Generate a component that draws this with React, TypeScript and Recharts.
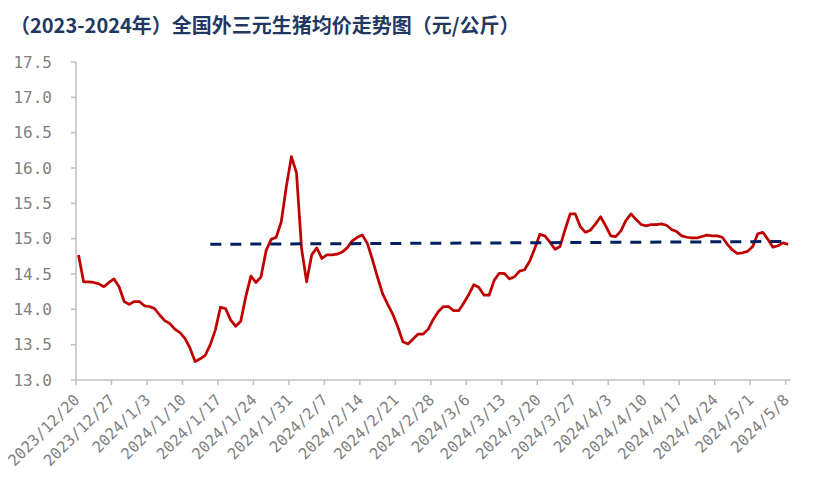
import React from 'react';
import { LineChart, Line, XAxis, YAxis } from 'recharts';

const tickLabels = [
  '2023/12/20', '2023/12/27', '2024/1/3', '2024/1/10', '2024/1/17', '2024/1/24', '2024/1/31',
  '2024/2/7', '2024/2/14', '2024/2/21', '2024/2/28', '2024/3/6', '2024/3/13', '2024/3/20',
  '2024/3/27', '2024/4/3', '2024/4/10', '2024/4/17', '2024/4/24', '2024/5/1', '2024/5/8',
];
const tickDays = [0, 7, 14, 21, 28, 35, 42, 49, 56, 63, 70, 77, 84, 91, 98, 105, 112, 119, 126, 133, 140];

// daily average price, 2023/12/20 .. 2024/5/8
const priceValues = [
  14.77, 14.39, 14.39, 14.38, 14.36, 14.32, 14.38, 14.43, 14.32, 14.11,
  14.07, 14.11, 14.11, 14.05, 14.04, 14.01, 13.92, 13.84, 13.80, 13.72,
  13.67, 13.59, 13.45, 13.26, 13.30, 13.35, 13.50, 13.71, 14.03, 14.01,
  13.85, 13.76, 13.83, 14.18, 14.47, 14.38, 14.46, 14.83, 14.99, 15.02,
  15.24, 15.74, 16.16, 15.93, 14.86, 14.39, 14.77, 14.87, 14.72, 14.77,
  14.77, 14.78, 14.81, 14.87, 14.97, 15.02, 15.05, 14.93, 14.70, 14.45,
  14.22, 14.07, 13.93, 13.75, 13.54, 13.51, 13.58, 13.65, 13.65, 13.72,
  13.86, 13.97, 14.04, 14.04, 13.98, 13.98, 14.09, 14.21, 14.35, 14.31,
  14.20, 14.20, 14.41, 14.51, 14.51, 14.43, 14.46, 14.54, 14.56, 14.68,
  14.86, 15.06, 15.04, 14.95, 14.85, 14.89, 15.13, 15.35, 15.35, 15.17,
  15.09, 15.12, 15.21, 15.31, 15.18, 15.04, 15.03, 15.11, 15.26, 15.35,
  15.27, 15.20, 15.18, 15.20, 15.20, 15.21, 15.19, 15.13, 15.10, 15.04,
  15.02, 15.01, 15.01, 15.03, 15.05, 15.04, 15.04, 15.02, 14.92, 14.84,
  14.79, 14.80, 14.82, 14.89, 15.07, 15.09, 14.99, 14.88, 14.90, 14.94,
  14.92,
];

// linear trend line endpoints (day index, value)
const trendDays = [26, 140];
const trendValues = [14.92, 14.96];

const yTicks = [13.0, 13.5, 14.0, 14.5, 15.0, 15.5, 16.0, 16.5, 17.0, 17.5];

const data = priceValues.map((v, i) => {
  const ti = trendDays.indexOf(i);
  return { day: i + 0.5, price: v, trend: ti >= 0 ? trendValues[ti] : null };
});

const AXIS = '#BFBFBF';
const LABEL = '#7F7F7F';
const MONO = '"DejaVu Sans Mono", monospace';

const XTick = (props: any) => {
  const { x, y, payload } = props;
  const idx = tickDays.indexOf(payload.value);
  const label = idx >= 0 ? tickLabels[idx] : '';
  const tx = x + 4.5;
  const ty = y + 16;
  return (
    <text
      x={tx}
      y={ty}
      transform={`rotate(-45 ${tx} ${ty})`}
      textAnchor="end"
      fill={LABEL}
      fontSize={15.5}
      fontFamily={MONO}
    >
      {label}
    </text>
  );
};

export default function App() {
  return (
    <div style={{ position: 'relative', width: 806, height: 478, background: '#fff' }}>
      <div
        style={{
          position: 'absolute',
          left: 2,
          top: 4,
          fontFamily: '"Noto Sans CJK SC", sans-serif',
          fontWeight: 700,
          fontSize: 20,
          lineHeight: '26px',
          color: '#1F3864',
          whiteSpace: 'nowrap',
        }}
      >
        （2023-2024年）全国外三元生猪均价走势图（元/公斤）
      </div>
      <LineChart
        width={806}
        height={478}
        data={data}
        margin={{ top: 54, right: 23.3, bottom: 16, left: 8 }}
        style={{ overflow: 'visible' }}
      >
        <XAxis
          dataKey="day"
          type="number"
          domain={[0, 141]}
          ticks={tickDays}
          interval={0}
          height={90}
          axisLine={{ stroke: AXIS, strokeWidth: 1.5 }}
          tickLine={{ stroke: AXIS, strokeWidth: 1.5 }}
          tickSize={5}
          tickMargin={0}
          tick={<XTick />}
        />
        <YAxis
          type="number"
          domain={[13, 17.5]}
          ticks={yTicks}
          interval={0}
          width={60}
          axisLine={{ stroke: AXIS, strokeWidth: 1.5 }}
          tickLine={{ stroke: AXIS, strokeWidth: 1.5 }}
          tickSize={5}
          tickMargin={19}
          tickFormatter={(v: number) => v.toFixed(1)}
          tick={{ fill: LABEL, fontSize: 16, fontFamily: MONO }}
        />
        <Line
          type="linear"
          dataKey="price"
          stroke="#C00000"
          strokeWidth={2.75}
          dot={false}
          isAnimationActive={false}
          strokeLinejoin="round"
        />
        <Line
          type="linear"
          dataKey="trend"
          stroke="#002060"
          strokeWidth={3}
          strokeDasharray="11 9"
          dot={false}
          connectNulls
          isAnimationActive={false}
        />
      </LineChart>
    </div>
  );
}
